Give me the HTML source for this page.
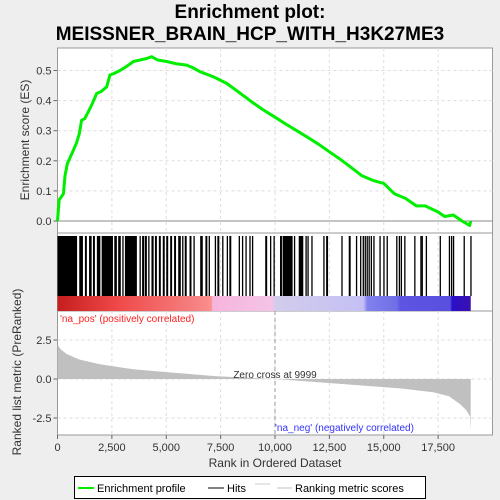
<!DOCTYPE html>
<html><head><meta charset="utf-8"><style>
body{margin:0;background:#eeeeee;}
svg{display:block;font-family:"Liberation Sans",sans-serif;}
</style></head><body>
<svg id="c" width="500" height="500" xmlns="http://www.w3.org/2000/svg">
<text x="250" y="18" text-anchor="middle" font-size="19" font-weight="bold" fill="#000">Enrichment plot:</text>
<text x="250" y="40" text-anchor="middle" font-size="19" font-weight="bold" fill="#000">MEISSNER_BRAIN_HCP_WITH_H3K27ME3</text>
</svg>
<script>
const esRanks=[0,80,270,345,450,575,700,880,1000,1110,1250,1420,1600,1800,2000,2260,2410,2600,2870,3100,3300,3490,3800,4100,4330,4600,5020,5500,5940,6200,6550,7200,7780,8300,8850,9400,10000,10500,11000,11500,12000,12500,13000,13500,14000,14500,15000,15500,16000,16500,16900,17500,17800,18200,18600,18950,19000];
const esValues=[0,0.07,0.09,0.15,0.19,0.21,0.23,0.26,0.29,0.335,0.34,0.363,0.39,0.424,0.43,0.446,0.485,0.49,0.50,0.51,0.52,0.53,0.535,0.54,0.546,0.535,0.53,0.522,0.518,0.51,0.496,0.478,0.457,0.43,0.40,0.372,0.345,0.322,0.30,0.278,0.255,0.23,0.205,0.178,0.15,0.135,0.125,0.09,0.075,0.05,0.05,0.03,0.015,0.02,0.0,-0.015,0];
const hitBlocks=[[0,900],[1000,1170],[1260,1350],[1450,1570],[1630,1720],[1810,1970],[2030,2550],[2610,2730],[2790,2910],[2980,3040],[3100,3650],[3770,3830],[3890,3990],[4020,4110],[4170,4230],[4320,4420],[4480,4570],[4660,4750],[4840,4930],[5000,5090],[5180,5270],[5360,5450],[5550,5670],[5730,5790],[5850,5940],[6070,6160],[6250,6310],[6560,6680],[6800,6890],[6950,7010],[7230,7290],[7350,7440],[7570,7630],[7780,7840],[7900,7990],[8330,8390],[8480,8540],[8640,8700],[8820,8880],[8940,9000],[9550,9640],[9770,9800],[9930,9960],[10230,10320],[10350,10810],[10870,10930],[11090,11300],[11400,11460],[11490,11510],[11670,11690],[12220,12250],[12350,12440],[13050,13070],[13390,13480],[13720,13740],[13910,13930],[14030,14050],[14120,14140],[14210,14230],[14300,14320],[14400,14420],[14520,14540],[14800,14820],[14980,15000],[15130,15150],[15570,15590],[15690,15710],[15780,15800],[15940,15960],[16400,16420],[16680,16700],[16740,16760],[16930,16950],[17570,17590],[17990,18010],[18090,18110],[18180,18200],[18670,18690],[18980,19000]];
const metricRanks=[0,150,420,1000,1950,3490,5020,7320,10000,12700,15750,17280,18000,18500,18800,18960,18995];
const metricValues=[2.2,1.9,1.6,1.25,0.95,0.62,0.44,0.18,0,-0.28,-0.6,-0.85,-1.1,-1.6,-2.0,-2.4,-3.3];
const xTicks=[0,2500,5000,7500,10000,12500,15000,17500];
const xTickLabels=["0","2,500","5,000","7,500","10,000","12,500","15,000","17,500"];
const esTicks=[0,0.1,0.2,0.3,0.4,0.5];
const metricTicks=[2.5,0,-2.5];
const metricTickLabels=["2.5","0.0","-2.5"];

const NS="http://www.w3.org/2000/svg";
const svg=document.getElementById('c');
const L=57.5,R=492.5;
const X=r=>L+r*0.02175;
const YE=v=>221-v*301;
const YM=v=>379-v*15.6;
function el(t,a,p){const e=document.createElementNS(NS,t);for(const k in a)e.setAttribute(k,a[k]);(p||svg).appendChild(e);return e;}

let bg=el('rect',{x:L,y:48,width:R-L,height:387,fill:'#fff',stroke:'#999'});


el('line',{x1:L,x2:R,y1:233,y2:233,stroke:'#999'});
el('line',{x1:L,x2:R,y1:311,y2:311,stroke:'#999'});
xTicks.forEach(t=>{
  if(t>0){
    el('line',{x1:X(t),x2:X(t),y1:48,y2:233,stroke:'#ddd','stroke-dasharray':'3,3'});
    el('line',{x1:X(t),x2:X(t),y1:236,y2:296,stroke:'#ddd','stroke-dasharray':'3,3'});
    el('line',{x1:X(t),x2:X(t),y1:311,y2:435,stroke:'#ddd','stroke-dasharray':'3,3'});
  }
  el('line',{x1:X(t),x2:X(t),y1:435,y2:439,stroke:'#666'});
  const tx=el('text',{x:X(t),y:451,'text-anchor':'middle','font-size':11,fill:'#333'});
  tx.textContent=xTickLabels[xTicks.indexOf(t)];
  
  
});
esTicks.forEach(t=>{
  el('line',{x1:L,x2:R,y1:YE(t),y2:YE(t),stroke:t===0?'#888':'#ddd','stroke-dasharray':t===0?'':'3,3'});
  el('line',{x1:L-4,x2:L,y1:YE(t),y2:YE(t),stroke:'#666'});
  const tx=el('text',{x:L-6,y:YE(t)+4,'text-anchor':'end','font-size':11,fill:'#333'});
  tx.textContent=t.toFixed(1);
  
  
});
metricTicks.forEach((t,i)=>{
  el('line',{x1:L,x2:R,y1:YM(t),y2:YM(t),stroke:'#ddd','stroke-dasharray':'3,3'});
  el('line',{x1:L-4,x2:L,y1:YM(t),y2:YM(t),stroke:'#666'});
  const tx=el('text',{x:L-6,y:YM(t)+4,'text-anchor':'end','font-size':11,fill:'#333'});
  tx.textContent=metricTickLabels[i];
  
  
});
let pts=esRanks.map((r,i)=>X(r).toFixed(1)+','+YE(esValues[i]).toFixed(1)).join(' ');
let es=el('polyline',{points:pts,fill:'none',stroke:'#00ee00','stroke-width':3,'stroke-linejoin':'round'});


hitBlocks.forEach(b=>{
  const h=el('rect',{x:X(b[0]),y:236,width:Math.max(1.3,X(b[1])-X(b[0])),height:60,fill:'#000'});
  
  
});
const defs=el('defs',{});
const g=el('linearGradient',{id:'cb',x1:0,x2:1,y1:0,y2:0},defs);
[['0','#c41e1e'],['0.15','#f04a4a'],['0.33','#f58080'],['0.372','#fc8f8f'],['0.375','#f6b4dc'],['0.52','#f4c4e6'],['0.527','#d2ccec'],['0.74','#c4c0f4'],['0.75','#8080ee'],['0.82','#7070e6'],['0.83','#5e54e2'],['0.95','#5a50e0'],['0.955','#2a10c8'],['1','#3a10b0']].forEach(s=>el('stop',{offset:s[0],'stop-color':s[1]},g));
let cb=el('rect',{x:L,y:296,width:X(19000)-L,height:15,fill:'url(#cb)'});


let mp='M'+X(0)+','+YM(0)+' '+metricRanks.map((r,i)=>'L'+X(r).toFixed(1)+','+YM(metricValues[i]).toFixed(1)).join(' ')+' L'+X(19000)+','+YM(0)+' Z';
let ma=el('path',{d:mp,fill:'#c0c0c0',stroke:'none'});


el('line',{x1:X(9999),x2:X(9999),y1:311,y2:435,stroke:'#999','stroke-dasharray':'4,3'});
function txt(s,a,name){const t=el('text',a);t.textContent=s;return t;}
txt('Zero cross at 9999',{x:275,y:378,'text-anchor':'middle','font-size':10,fill:'#333'},'zero-cross-label');
txt("'na_pos' (positively correlated)",{x:60,y:322,'font-size':10,fill:'#ff2020'},'na-pos-label');
txt("'na_neg' (negatively correlated)",{x:275,y:431,'font-size':10,fill:'#3333ff'},'na-neg-label');
txt('Rank in Ordered Dataset',{x:275,y:467,'text-anchor':'middle','font-size':12,fill:'#333'},'x-axis-title');
txt('Enrichment score (ES)',{x:0,y:0,'text-anchor':'middle','font-size':12,fill:'#333',transform:'translate(29,140) rotate(-90)'},'es-axis-title');
txt('Ranked list metric (PreRanked)',{x:0,y:0,'text-anchor':'middle','font-size':12,fill:'#333',transform:'translate(21,372) rotate(-90)'},'metric-axis-title');
const lg=el('g',{});


el('rect',{x:74.5,y:476.5,width:351,height:22,fill:'#fff',stroke:'#000'},lg);
el('line',{x1:78,x2:94,y1:488,y2:488,stroke:'#00ee00','stroke-width':2},lg);
txt('Enrichment profile',{x:97,y:492,'font-size':11,fill:'#000'},'legend-entry-enrichment');
el('line',{x1:208,x2:224,y1:488,y2:488,stroke:'#000','stroke-width':1},lg);
txt('Hits',{x:227,y:492,'font-size':11,fill:'#000'},'legend-entry-hits');
el('line',{x1:255,x2:270,y1:484,y2:484,stroke:'#ccc'},lg);
el('line',{x1:277,x2:292,y1:488,y2:488,stroke:'#c0c0c0','stroke-width':1},lg);
txt('Ranking metric scores',{x:295,y:492,'font-size':11,fill:'#000'},'legend-entry-metric');
</script>
</body></html>
